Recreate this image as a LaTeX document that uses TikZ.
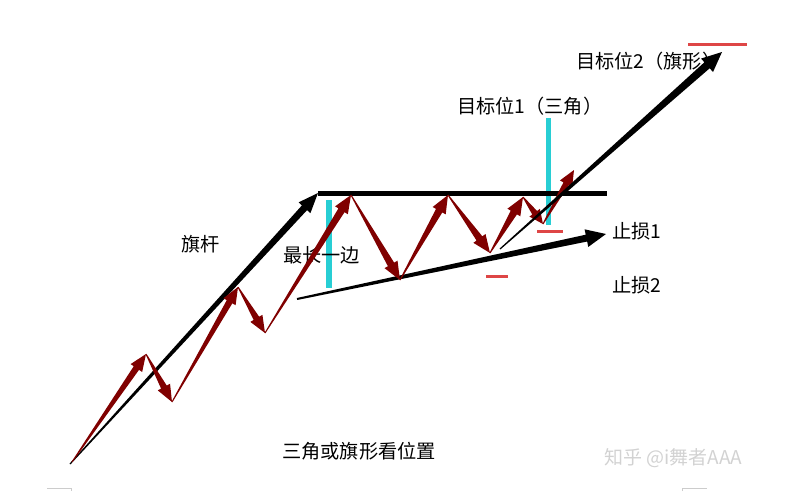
\documentclass[tikz,border=0pt]{standalone}
\usepackage{fontspec}
\newfontfamily\cjk{Noto Sans CJK SC}
\usetikzlibrary{calc}
\definecolor{maroonc}{RGB}{128,0,0}
\definecolor{cyanbar}{RGB}{40,206,212}
\definecolor{reddash}{RGB}{222,70,70}
\definecolor{wmgray}{RGB}{210,210,210}
\newcommand\tarrow[7][black]{%
  \coordinate (ta-b) at ($(#3)!#6!(#2)$);
  \fill[#1] ($(#2)!#4!90:(#3)$) -- ($(ta-b)!#5!90:(#3)$) -- ($(ta-b)!#7!90:(#3)$) -- (#3)
    -- ($(ta-b)!#7!-90:(#3)$) -- ($(ta-b)!#5!-90:(#3)$) -- ($(#2)!#4!-90:(#3)$) -- cycle;}
\tikzset{
  lbl/.style={anchor=west, inner sep=0pt, font=\cjk\fontsize{19.2}{21}\selectfont, text=black},
  wm/.style={anchor=west, inner sep=0pt, font=\cjk\fontsize{19}{21}\selectfont, text=wmgray},
  cbar/.style={cyanbar, line width=6pt},
  rdash/.style={reddash, line width=3pt},
  crop/.style={gray!40, line width=0.8pt},
}
\begin{document}
\begin{tikzpicture}[x=1pt,y=-1pt]
\useasboundingbox (0,0) rectangle (797,491);
% named points
\coordinate (p0) at (72,462);
\coordinate (p1) at (146,354);
\coordinate (p2) at (172,402);
\coordinate (p3) at (238,287);
\coordinate (p4) at (265,333);
\coordinate (p5) at (351,195);
\coordinate (p6) at (400,280);
\coordinate (p7) at (448,195);
\coordinate (p8) at (490,253);
\coordinate (p9) at (523,197);
\coordinate (p10) at (543,224);
\coordinate (p11) at (574,170);
\coordinate (fp0) at (70,464);
\coordinate (fp1) at (318,193);
\coordinate (hl1) at (607,193);
\coordinate (lt0) at (297,299);
\coordinate (lt1) at (606,234);
\coordinate (bo0) at (500,249);
\coordinate (bo1) at (722,52);
% texts
\node[lbl] (t2) at (576,61) {目标位2（旗形）};
\node[lbl] (t1) at (457,106) {目标位1（三角）};
\node[lbl] (qg) at (181,244) {旗杆};
\draw[cbar] (329,200) -- (329,288);
\node[lbl] (zc) at (283,255) {最长一边};
\node[lbl] (zs1) at (612,231) {止损1};
\node[lbl] (zs2) at (612,285) {止损2};
\node[lbl] (bt) at (282,451) {三角或旗形看位置};
\node[wm] (wmk) at (604,458) {知乎 @i舞者AAA};
% cyan bar 2
\draw[cbar, line width=5pt] (548,118) -- (548,225);
% red dashes
\draw[rdash] (537,231) -- (563,231);
\draw[rdash] (486,276) -- (508,276);
\draw[rdash] (688,44) -- (747,44);
% black lines
\draw[black, line width=5pt] (fp1) -- (hl1);
\tarrow[black]{fp0}{fp1}{0.6pt}{3.5pt}{20pt}{8pt}
\tarrow[black]{lt0}{lt1}{1pt}{3.5pt}{20pt}{9pt}
% maroon zigzag
\tarrow[maroonc]{p0}{p1}{0.5pt}{3.2pt}{17pt}{7pt}
\tarrow[maroonc]{p1}{p2}{0.5pt}{3.2pt}{17pt}{7pt}
\tarrow[maroonc]{p2}{p3}{0.5pt}{3.2pt}{17pt}{7pt}
\tarrow[maroonc]{p3}{p4}{0.5pt}{3.2pt}{17pt}{7pt}
\tarrow[maroonc]{p4}{p5}{0.5pt}{3.6pt}{18pt}{7.5pt}
\tarrow[maroonc]{p5}{p6}{0.5pt}{3.6pt}{18pt}{7.5pt}
\tarrow[maroonc]{p6}{p7}{0.5pt}{3.6pt}{18pt}{7.5pt}
\tarrow[maroonc]{p7}{p8}{0.5pt}{3.6pt}{18pt}{7.5pt}
\tarrow[maroonc]{p8}{p9}{0.5pt}{3.6pt}{18pt}{7.5pt}
\tarrow[maroonc]{p9}{p10}{0.5pt}{3pt}{14pt}{6.5pt}
\tarrow[maroonc]{p10}{p11}{0.5pt}{3pt}{16pt}{7pt}
% breakout arrow
\tarrow[black]{bo0}{bo1}{0.6pt}{4pt}{20pt}{9pt}
% crop marks
\draw[crop] (47,488) -- (71,488) -- (71,491);
\draw[crop] (682,491) -- (682,488) -- (707,488);
\end{tikzpicture}
\end{document}
